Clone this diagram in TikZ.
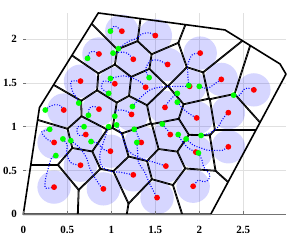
\documentclass[tikz,border=0pt]{standalone}
\usepackage{fontspec}
\setmainfont{Liberation Serif}
\usepackage{tikz}
\usetikzlibrary{calc}

\begin{document}
\begin{tikzpicture}[
x=88pt, y=87.6pt,
gridline/.style={draw=black!12, line width=0.4pt},
axisline/.style={draw=black!55, line width=0.6pt},
tickmark/.style={draw=black!55, line width=0.5pt},
ticklabel/.style={font=\fontsize{11}{12}\selectfont\bfseries, inner sep=0pt},
sensorarea/.style={fill=blue, fill opacity=0.16},
cellline/.style={draw=black, line width=1.8pt},
trail/.style={draw=blue, line width=1.1pt, dash pattern=on 1pt off 1.6pt},
endpt/.style={fill=red},
startpt/.style={fill=green}
]
\useasboundingbox (-0.2648,-0.316) rectangle (3.042,2.446);

% region corners
\coordinate (b1) at (0,0);
\coordinate (b2) at (2.13,0);
\coordinate (b3) at (2.985,1.60);
\coordinate (b4) at (2.917,1.716);
\coordinate (b5) at (2.292,2.104);
\coordinate (b6) at (0.852,2.298);
\coordinate (b7) at (0.184,1.219);

% final positions
\coordinate (r1) at (1.12,2.09);
\coordinate (r2) at (1.50,2.04);
\coordinate (r3) at (0.86,1.83);
\coordinate (r4) at (1.25,1.77);
\coordinate (r5) at (2.01,1.84);
\coordinate (r6) at (1.64,1.71);
\coordinate (r7) at (0.65,1.52);
\coordinate (r8) at (1.04,1.49);
\coordinate (r9) at (1.39,1.45);
\coordinate (r10) at (1.89,1.46);
\coordinate (r11) at (2.25,1.54);
\coordinate (r12) at (2.62,1.42);
\coordinate (r13) at (0.46,1.19);
\coordinate (r14) at (0.86,1.20);
\coordinate (r15) at (1.23,1.14);
\coordinate (r16) at (1.61,1.22);
\coordinate (r17) at (1.97,1.10);
\coordinate (r18) at (2.33,1.16);
\coordinate (r19) at (0.35,0.82);
\coordinate (r20) at (0.71,0.91);
\coordinate (r21) at (0.99,0.72);
\coordinate (r22) at (1.34,0.82);
\coordinate (r23) at (1.67,0.91);
\coordinate (r24) at (1.96,0.71);
\coordinate (r25) at (2.33,0.77);
\coordinate (r26) at (0.65,0.56);
\coordinate (r27) at (1.25,0.45);
\coordinate (r28) at (1.62,0.55);
\coordinate (r29) at (0.35,0.31);
\coordinate (r30) at (0.91,0.29);
\coordinate (r31) at (1.52,0.19);
\coordinate (r32) at (1.93,0.32);

% start positions
\coordinate (g1) at (0.99,2.09);
\coordinate (g2) at (1.08,1.89);
\coordinate (g3) at (0.73,1.78);
\coordinate (g4) at (1.02,1.84);
\coordinate (g5) at (1.88,1.47);
\coordinate (g6) at (1.43,1.56);
\coordinate (g7) at (0.63,1.27);
\coordinate (g8) at (0.97,1.38);
\coordinate (g9) at (0.99,1.55);
\coordinate (g10) at (1.24,1.23);
\coordinate (g11) at (2.00,1.46);
\coordinate (g12) at (2.39,1.36);
\coordinate (g13) at (0.25,1.19);
\coordinate (g14) at (0.74,1.13);
\coordinate (g15) at (1.04,1.12);
\coordinate (g16) at (1.75,1.38);
\coordinate (g17) at (1.75,1.28);
\coordinate (g18) at (2.02,0.90);
\coordinate (g19) at (0.30,0.97);
\coordinate (g20) at (0.69,1.00);
\coordinate (g21) at (0.77,0.83);
\coordinate (g22) at (1.26,0.97);
\coordinate (g23) at (1.58,1.03);
\coordinate (g24) at (1.76,0.91);
\coordinate (g25) at (1.85,0.86);
\coordinate (g26) at (0.45,0.86);
\coordinate (g27) at (0.97,1.00);
\coordinate (g28) at (1.06,1.02);
\coordinate (g29) at (0.37,0.67);
\coordinate (g30) at (0.54,0.84);
\coordinate (g31) at (1.29,0.82);
\coordinate (g32) at (1.99,0.70);

% grid
\foreach \gx in {0.5,1,1.5,2,2.5}
  \draw[gridline] (\gx,0) -- (\gx,2.298);
\foreach \gy in {0.5,1,1.5,2}
  \draw[gridline] (0,\gy) -- (2.985,\gy);

% sensing discs
\fill[sensorarea] \foreach \i in {1,...,32} {(r\i) circle (0.19)};

% voronoi cells: each cell keeps its half of every bisector
\foreach \i in {1,...,32}{
  \begin{scope}
    \clip (b1) -- (b2) -- (b3) -- (b4) -- (b5) -- (b6) -- (b7) -- cycle;
    \foreach \j in {1,...,32}{
      \ifnum\i=\j\relax\else
        \coordinate (m) at ($(r\i)!0.5!(r\j)$);
        \coordinate (ha) at ($(m)!20cm!90:(r\i)$);
        \coordinate (hb) at ($(m)!20cm!-90:(r\i)$);
        \clip (ha) -- ($(ha)!20cm!90:(m)$) -- ($(hb)!20cm!-90:(m)$) -- (hb) -- cycle;
      \fi
    }
    \foreach \j in {1,...,32}{
      \ifnum\i=\j\relax\else
        \coordinate (m) at ($(r\i)!0.5!(r\j)$);
        \draw[cellline] ($(m)!20cm!90:(r\i)$) -- ($(m)!20cm!-90:(r\i)$);
      \fi
    }
  \end{scope}
}
\draw[cellline, line width=1.6pt, line join=round] (b1) -- (b2) -- (b3) -- (b4) -- (b5) -- (b6) -- (b7) -- cycle;

% axes
\draw[axisline] (0,0) -- (2.985,0);
\foreach \gx in {0,0.5,1,1.5,2,2.5}
  \draw[tickmark] (\gx,0) -- ++(0,3pt);
\foreach \gy in {0,0.5,1,1.5,2}
  \draw[tickmark] (0,\gy) -- ++(3pt,0);
\foreach \gx in {0,0.5,1,1.5,2,2.5}
  \node[ticklabel] at (\gx,-0.18) {\gx};
\foreach \gy in {0,0.5,1,1.5,2}
  \node[ticklabel, anchor=east] at (-0.07,\gy) {\gy};

% trajectories
\draw[trail] plot[smooth] coordinates {(g1) (1.04,2.15) (r1)};
\draw[trail] plot[smooth] coordinates {(g2) (1.19,1.97) (1.29,2.01) (1.35,2.06) (1.44,2.07) (r2)};
\draw[trail] plot[smooth] coordinates {(g3) (0.75,1.84) (0.80,1.86) (r3)};
\draw[trail] plot[smooth] coordinates {(g4) (1.10,1.85) (1.18,1.84) (r4)};
\draw[trail] plot[smooth] coordinates {(g5) (1.87,1.59) (1.87,1.71) (1.92,1.82) (r5)};
\draw[trail] plot[smooth] coordinates {(g6) (1.39,1.65) (1.44,1.75) (1.53,1.76) (r6)};
\draw[trail] plot[smooth] coordinates {(g7) (0.61,1.32) (0.56,1.40) (0.54,1.48) (0.55,1.52) (r7)};
\draw[trail] plot[smooth] coordinates {(g8) (0.89,1.44) (0.91,1.52) (0.98,1.51) (r8)};
\draw[trail] plot[smooth] coordinates {(g9) (1.07,1.57) (1.14,1.58) (1.23,1.56) (1.33,1.51) (r9)};
\draw[trail] plot[smooth] coordinates {(g10) (1.33,1.33) (1.44,1.42) (1.55,1.45) (1.72,1.46) (r10)};
\draw[trail] plot[smooth] coordinates {(g11) (2.06,1.44) (2.12,1.45) (2.19,1.50) (r11)};
\draw[trail] plot[smooth] coordinates {(g12) (2.46,1.36) (2.50,1.42) (2.55,1.44) (r12)};
\draw[trail] plot[smooth] coordinates {(g13) (0.30,1.23) (0.36,1.25) (0.42,1.24) (r13)};
\draw[trail] plot[smooth] coordinates {(g14) (0.75,1.21) (0.79,1.23) (0.84,1.22) (r14)};
\draw[trail] plot[smooth] coordinates {(g15) (1.05,1.18) (1.12,1.19) (1.19,1.17) (r15)};
\draw[trail] plot[smooth] coordinates {(g16) (1.69,1.33) (1.64,1.27) (r16)};
\draw[trail] plot[smooth] coordinates {(g17) (1.81,1.21) (1.87,1.16) (1.93,1.12) (r17)};
\draw[trail] plot[smooth] coordinates {(g18) (2.10,0.92) (2.20,0.98) (2.25,1.06) (2.29,1.12) (r18)};
\draw[trail] plot[smooth] coordinates {(g19) (0.21,0.94) (0.23,0.90) (0.28,0.85) (r19)};
\draw[trail] plot[smooth] coordinates {(g20) (0.62,1.00) (0.61,0.94) (0.64,0.90) (r20)};
\draw[trail] plot[smooth] coordinates {(g21) (0.85,0.81) (0.88,0.77) (0.93,0.73) (r21)};
\draw[trail] plot[smooth] coordinates {(g22) (1.29,0.93) (1.31,0.87) (r22)};
\draw[trail] plot[smooth] coordinates {(g23) (1.61,0.99) (1.64,0.96) (r23)};
\draw[trail] plot[smooth] coordinates {(g24) (1.80,0.84) (1.87,0.76) (r24)};
\draw[trail] plot[smooth] coordinates {(g25) (1.93,0.79) (2.01,0.76) (2.10,0.73) (2.18,0.73) (2.26,0.73) (r25)};
\draw[trail] plot[smooth] coordinates {(g26) (0.50,0.79) (0.49,0.71) (0.51,0.64) (0.55,0.58) (r26)};
\draw[trail] plot[smooth] coordinates {(g27) (0.92,0.85) (0.87,0.68) (0.89,0.55) (0.99,0.49) (1.10,0.48) (r27)};
\draw[trail] plot[smooth] coordinates {(g28) (1.12,0.90) (1.19,0.73) (1.33,0.64) (1.50,0.59) (r28)};
\draw[trail] plot[smooth] coordinates {(g29) (0.32,0.64) (0.28,0.51) (0.25,0.39) (0.25,0.30) (0.30,0.30) (r29)};
\draw[trail] plot[smooth] coordinates {(g30) (0.64,0.76) (0.72,0.64) (0.75,0.54) (0.80,0.44) (0.87,0.33) (r30)};
\draw[trail] plot[smooth] coordinates {(g31) (1.30,0.70) (1.31,0.59) (1.38,0.48) (1.44,0.34) (r31)};
\draw[trail] plot[smooth] coordinates {(g32) (2.03,0.62) (2.05,0.54) (2.12,0.45) (2.10,0.39) (2.05,0.37) (1.99,0.39) (r32)};

% agents
\foreach \i in {1,...,32}
  \fill[endpt] (r\i) circle (2.9pt);
\foreach \i in {1,...,32}
  \fill[startpt] (g\i) circle (2.9pt);
\end{tikzpicture}
\end{document}
